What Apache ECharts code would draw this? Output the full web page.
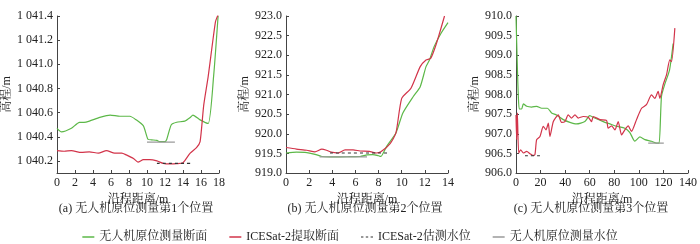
<!DOCTYPE html>
<html>
<head>
<meta charset="utf-8">
<script src="https://cdn.jsdelivr.net/npm/echarts@6/dist/echarts.min.js"></script>
<style>
html,body{margin:0;padding:0;background:#fff;}
#container{width:700px;height:244px;}
</style>
</head>
<body>
<div id="container"></div>
<script>
// 位置1
var aUav = [[0,1040.47],[0.5,1040.44],[1.6,1040.47],[2.5,1040.52],[3.0,1040.52],[3.6,1040.53],[4.75,1040.56],[5.9,1040.58],[7,1040.57],[8.1,1040.57],[8.8,1040.54],[9.6,1040.49],[10.1,1040.38],[10.5,1040.375],[11.1,1040.37],[11.4,1040.36],[12,1040.36],[12.2,1040.38],[12.7,1040.50],[13.3,1040.52],[14.2,1040.53],[14.8,1040.56],[15.1,1040.58],[15.9,1040.54],[16.8,1040.51],[17.4,1040.90],[17.9,1041.40]];
var aIce = [[0,1040.285],[0.8,1040.28],[1.6,1040.285],[2.7,1040.27],[3.6,1040.275],[4.6,1040.265],[5.5,1040.285],[6.4,1040.265],[7.2,1040.265],[7.7,1040.25],[8.5,1040.22],[9,1040.19],[9.6,1040.21],[10.3,1040.21],[11.1,1040.20],[11.8,1040.18],[12.5,1040.175],[13.3,1040.177],[14,1040.185],[14.8,1040.265],[15.5,1040.31],[15.9,1040.36],[16.3,1040.66],[16.8,1040.90],[17.6,1041.35],[17.9,1041.41]];
var aIceLevel = [[11.1,1040.18],[15.1,1040.18]];
var aUavLevel = [[10.0,1040.356],[13.1,1040.356]];
// 位置2
var bUav = [[0,919.51],[0.9,919.53],[1.8,919.52],[2.6,919.47],[3.1,919.42],[3.8,919.41],[4.7,919.41],[5.5,919.415],[6.4,919.42],[7.0,919.46],[7.5,919.47],[8.0,919.44],[8.2,919.42],[8.7,919.68],[9.5,920.02],[10.1,920.53],[11,920.95],[11.6,921.2],[12.1,921.71],[12.4,921.88],[12.8,922.22],[13.4,922.56],[14,922.83]];
var bIce = [[0,919.65],[0.9,919.61],[1.8,919.58],[2.5,919.54],[3.1,919.61],[3.5,919.58],[3.9,919.53],[4.5,919.51],[5.1,919.59],[5.8,919.59],[6.4,919.56],[7.2,919.55],[7.8,919.51],[8.2,919.54],[9.0,919.75],[9.5,920.02],[10.0,920.9],[10.8,921.16],[11.6,921.71],[12.1,921.88],[12.5,921.92],[13.0,922.3],[13.7,923.0]];
var bIceLevel = [[3.8,919.51],[9.0,919.51]];
var bUavLevel = [[2.9,919.41],[7.0,919.41]];
// 位置3
var cUav = [[0,910.0],[1.1,908.7],[1.9,907.95],[2.7,907.63],[4.6,907.63],[6,907.76],[8.7,907.7],[12.7,907.68],[16.8,907.7],[20.9,907.65],[25.5,907.65],[29,907.53],[33,907.48],[38.5,907.36],[43.9,907.29],[49.3,907.25],[56,907.31],[60,907.46],[64,907.4],[71,907.31],[76.4,907.25],[81.8,907.19],[88.6,907.14],[92.7,907.03],[96.7,906.81],[100.8,906.92],[104.9,906.85],[110.3,906.81],[114.4,906.76],[116.5,906.76],[118.4,907.95],[121,908.25],[125,908.63],[127.9,909.3]];
var cIce = [[0,907.48],[0.5,906.85],[1.1,907.53],[2.2,906.51],[3.8,906.59],[6,906.51],[8.7,906.55],[11.4,906.49],[13.5,906.45],[15.4,906.47],[16.8,906.85],[19.5,906.93],[22.2,907.19],[24.4,907.1],[26.3,907.27],[27.6,906.93],[30.4,907.31],[34.4,907.48],[37.1,907.29],[39.8,907.31],[42.5,907.48],[45.3,907.4],[48,907.48],[50.7,907.4],[54.7,907.44],[58.8,907.42],[61.5,907.31],[62.9,907.44],[68.3,907.36],[73.7,907.34],[75,907.14],[77.8,907.2],[80.5,907.1],[83.2,907.31],[85.9,906.97],[88.6,907.1],[91.3,907.2],[94,907.06],[98.1,907.36],[102.2,907.65],[106.2,907.74],[110.3,907.99],[113,907.9],[115.7,908.08],[117.1,907.9],[119.8,908.25],[122.5,908.5],[125.2,908.88],[126.6,908.84],[129.3,909.69]];
var cIceLevel = [[7.3,906.44],[19.5,906.44]];
var cUavLevel = [[107.6,906.76],[120.3,906.76]];

var names = ['无人机原位测量断面','ICESat-2提取断面','ICESat-2估测水位','无人机原位测量水位'];
var titles = ['(a) 无人机原位测量第1个位置','(b) 无人机原位测量第2个位置','(c) 无人机原位测量第3个位置'];
var aYTicks = [1040.2,1040.4,1040.6,1040.8,1041.0,1041.2,1041.4];

var font = '"Liberation Serif","Noto Serif CJK SC","Noto Sans CJK SC",serif';
var green = '#5cb848', red = '#d2344a', dark = '#333', gray = '#9a9a9a';

var dom = document.getElementById('container');
var myChart = echarts.init(dom);

function fmtSpace(v){
	var s = v.toFixed(1);
	if(v >= 1000){
		s = s.slice(0, s.length-5) + ' ' + s.slice(s.length-5);
	}
	return s;
}

function xAx(i, max, interval){
	return {
		type:'value', gridIndex:i, min:0, max:max, interval:interval,
		name:'沿程距离/m', nameLocation:'middle', nameGap:18,
		nameTextStyle:{fontFamily:font, fontSize:12, color:'#222'},
		axisLine:{lineStyle:{color:'#444', width:1}},
		axisTick:{inside:true, length:3, lineStyle:{color:'#444'}},
		axisLabel:{fontFamily:font, fontSize:12, color:'#222', margin:4},
		splitLine:{show:false}
	};
}
function yAx(i, min, max, interval, gap){
	return {
		type:'value', gridIndex:i, min:min, max:max, interval:interval,
		name:'高程/m', nameLocation:'middle', nameGap:gap, nameRotate:90,
		nameTextStyle:{fontFamily:font, fontSize:12, color:'#222'},
		axisLine:{show:true, lineStyle:{color:'#444', width:1}},
		axisTick:{show:true, inside:true, length:3, lineStyle:{color:'#444'}},
		axisLabel:{fontFamily:font, fontSize:12, color:'#222', margin:4, formatter:fmtSpace},
		splitLine:{show:false}
	};
}

var ya = yAx(0, 1040.1, 1041.4, 0.1, 41);
ya.axisLabel.customValues = aYTicks;
ya.axisTick.customValues = aYTicks;

function line(name, i, data, color, type){
	return {
		name:name, type:'line', xAxisIndex:i, yAxisIndex:i, data:data,
		symbol:'none', smooth:0.2, animation:false,
		lineStyle:{color:color, width:1.2, type:type || 'solid'},
		itemStyle:{color:color}
	};
}

var dashIcon = 'path://M0,0h2v1h-2zM4,0h2v1h-2zM8,0h2v1h-2z';

var option = {
	backgroundColor:'#fff',
	animation:false,
	grid:[
		{left:57, top:16, width:162, height:157},
		{left:286, top:16, width:162, height:157},
		{left:516, top:16, width:172, height:157}
	],
	xAxis:[xAx(0,18,2), xAx(1,14,2), xAx(2,140,20)],
	yAxis:[ya, yAx(1,919,923,0.5,30), yAx(2,906,910,0.5,30)],
	legend:{
		data:[
			{name:names[0], icon:'rect'},
			{name:names[1], icon:'rect'},
			{name:names[2], icon:dashIcon},
			{name:names[3], icon:'rect'}
		],
		top:226, left:'center', itemWidth:12, itemHeight:1.5, itemGap:22,
		textStyle:{fontFamily:font, fontSize:12, color:'#222'}
	},
	series:[
		line(names[0],0,aUav,green), line(names[1],0,aIce,red), line(names[2],0,aIceLevel,dark,[3,3]), line(names[3],0,aUavLevel,gray),
		line(names[0],1,bUav,green), line(names[1],1,bIce,red), line(names[2],1,bIceLevel,dark,[3,3]), line(names[3],1,bUavLevel,gray),
		line(names[0],2,cUav,green), line(names[1],2,cIce,red), line(names[2],2,cIceLevel,dark,[3,3]), line(names[3],2,cUavLevel,gray)
	]
};
var centers = [136, 365, 591];
option.graphic = centers.map(function(c, k){
	return {type:'text', x:c, y:203, style:{text:titles[k], fontFamily:font, fontSize:12, fill:'#222', textAlign:'center'}};
});
myChart.setOption(option, true);
</script>
</body>
</html>
